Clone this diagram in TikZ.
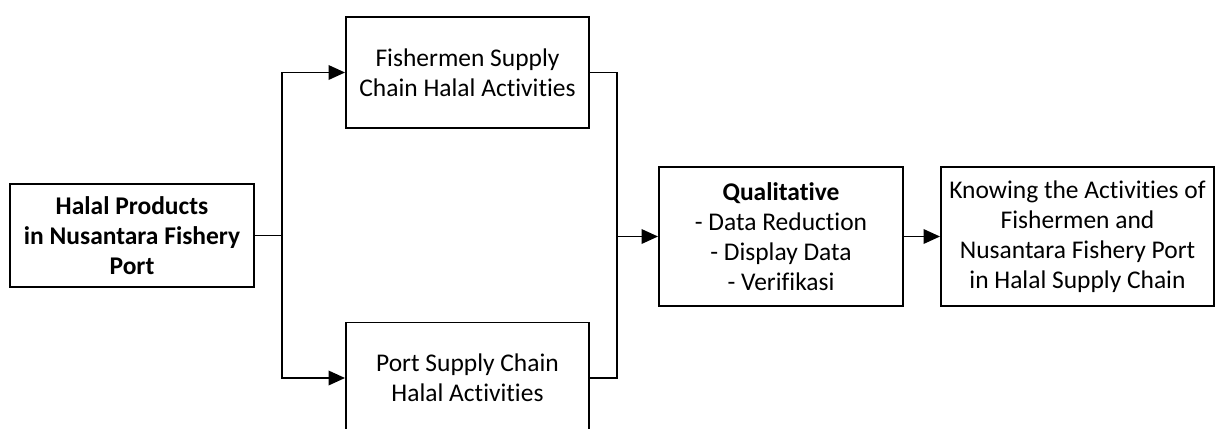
\documentclass[tikz,border=0pt]{standalone}
\usepackage{fontspec}
\setmainfont{Carlito}[Ligatures=NoCommon]
\usetikzlibrary{arrows.meta}
\tikzset{
    every node/.style={font=\fontsize{14.5}{17}\selectfont},
    stagebox/.style={draw, line width=1.1pt, align=center, inner sep=0pt,
        minimum width=4.86cm, minimum height=2.22cm},
    flowarrow/.style={line width=1.1pt, -{Triangle[length=3.3mm, width=2.9mm]}},
    flowline/.style={line width=1.1pt},
}

\begin{document}
\begin{tikzpicture}
            \useasboundingbox (0, 0) rectangle (24.3, 8.56);
            \node[stagebox, minimum width=4.88cm, minimum height=2.06cm,
                font=\fontsize{14.5}{17}\selectfont\bfseries] (products) at (2.64, 3.85)
                {Halal Products\\in Nusantara Fishery\\Port};
            \node[stagebox] (fisher) at (9.35, 7.11)
                {Fishermen Supply\\Chain Halal Activities};
            \node[stagebox] (port) at (9.35, 1.0)
                {Port Supply Chain\\Halal Activities};
            \node[stagebox, minimum width=4.88cm, minimum height=2.78cm] (qual) at (15.62, 3.83)
                {\textbf{Qualitative}\\- Data Reduction\\- Display Data\\- Verifikasi};
            \node[stagebox, minimum width=5.46cm, minimum height=2.78cm] (know) at (21.55, 3.83)
                {Knowing the Activities of\\Fishermen and\\Nusantara Fishery Port\\in Halal Supply Chain};
            \coordinate (split) at (5.64, 3.85);
            \coordinate (merge) at (12.34, 3.83);
            \draw[flowline] (products.east) -- (split);
            \foreach \target in {fisher, port}
                \draw[flowarrow] (split) |- (\target.west);
            \foreach \source in {fisher, port}
                \draw[flowline] (\source.east) -| (merge);
            \draw[flowarrow] (merge) -- (qual.west);
            \draw[flowarrow] (qual.east) -- (know.west);
        \end{tikzpicture}
\end{document}
